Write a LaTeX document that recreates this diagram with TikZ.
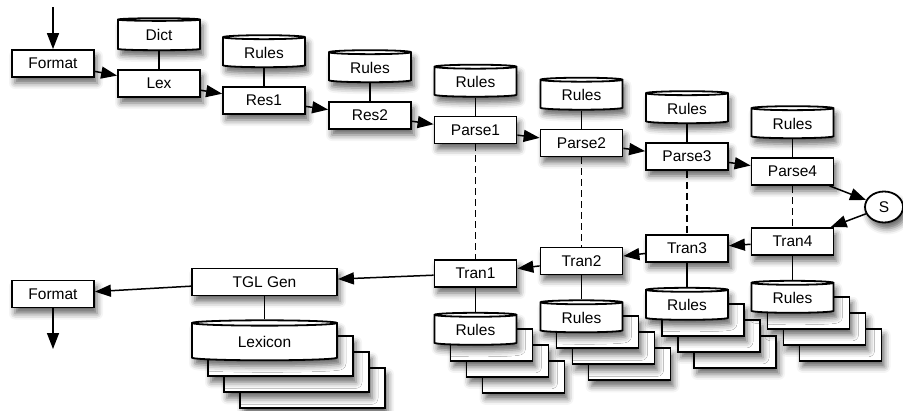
\documentclass[tikz,border=0pt]{standalone}
\usepackage{fontspec}
\setmainfont{Liberation Sans}
\usetikzlibrary{positioning,arrows.meta,shapes.geometric,shadows.blur}

\begin{document}
\begin{tikzpicture}[x=1pt, y=-1pt, font=\fontsize{15.5}{18}\selectfont,
		soft/.style={blur shadow={shadow xshift=3pt, shadow yshift=-6pt, shadow blur radius=6pt, shadow opacity=60}},
		stage/.style={draw, line width=1.8pt, fill=white, soft, minimum width=82pt, minimum height=27pt, inner sep=0pt},
		db/.style={draw, line width=1.8pt, fill=white, soft, cylinder, shape border rotate=90, aspect=0.1, minimum width=82pt, minimum height=32pt, inner sep=0pt},
		flow/.style={line width=1.5pt, -{Triangle[length=16pt, width=12pt]}},
		link/.style={line width=1.5pt},
		pair/.style={line width=1.5pt, dash pattern=on 7pt off 4pt}]
	\useasboundingbox (0,0) rectangle (903,410);
	\coordinate (in) at (53,7);
	\node[stage] (format1) at (53,63.5) {Format};
	\node[stage] (lex) at (159,83.5) {Lex};
	\node[stage] (res1) at (264,100.5) {Res1};
	\node[stage] (res2) at (370,115.5) {Res2};
	\node[stage] (parse1) at (475.5,130) {Parse1};
	\node[stage] (parse2) at (581.5,143) {Parse2};
	\node[stage] (parse3) at (687,156.5) {Parse3};
	\node[stage] (parse4) at (792.5,171.5) {Parse4};
	\node[draw, ellipse, line width=1.8pt, fill=white, soft, minimum width=38pt, minimum height=31pt, inner sep=0pt] (s) at (884,207) {S};
	\node[stage] (tran4) at (792.5,241.5) {Tran4};
	\node[stage] (tran3) at (687,248.5) {Tran3};
	\node[stage] (tran2) at (581.5,261) {Tran2};
	\node[stage] (tran1) at (475.5,273.5) {Tran1};
	\node[stage, minimum width=145pt] (tgl) at (264.5,282) {TGL Gen};
	\node[stage] (format2) at (53,294) {Format};
	\coordinate (out) at (53,349);

	\node[db, above=18pt of lex] (dict) {Dict};
	\foreach \n in {res1,res2,parse1,parse2,parse3,parse4}
		\node[db, above=18pt of \n] (rules-\n) {Rules};
	\foreach \n in {tran1,tran2,tran3,tran4}{
		\foreach \k in {3,2,1}
			\node[db, below=24pt of \n, xshift={\k*16pt}, yshift={-\k*16pt}] {};
		\node[db, below=24pt of \n] (rules-\n) {Rules};
	}
	\foreach \k in {3,2,1}
		\node[db, minimum width=145pt, minimum height=40pt, below=23pt of tgl, xshift={\k*16pt}, yshift={-\k*16pt}] {};
	\node[db, minimum width=145pt, minimum height=40pt, below=23pt of tgl] (lexicon) {Lexicon};

	\foreach \a/\b in {in/format1, format1/lex, lex/res1, res1/res2, res2/parse1, parse1/parse2, parse2/parse3, parse3/parse4, parse4/s, s/tran4, tran4/tran3, tran3/tran2, tran2/tran1, tran1/tgl, tgl/format2, format2/out}
		\draw[flow] (\a) -- (\b);
	\draw[link] (dict) -- (lex);
	\foreach \n in {res1,res2,parse1,parse2,parse3,parse4}
		\draw[link] (rules-\n) -- (\n);
	\foreach \n in {tran1,tran2,tran3,tran4}
		\draw[link] (\n) -- (rules-\n);
	\draw[link] (tgl) -- (lexicon);
	\foreach \i in {1,...,4}
		\draw[pair] (parse\i) -- (tran\i);
\end{tikzpicture}
\end{document}
